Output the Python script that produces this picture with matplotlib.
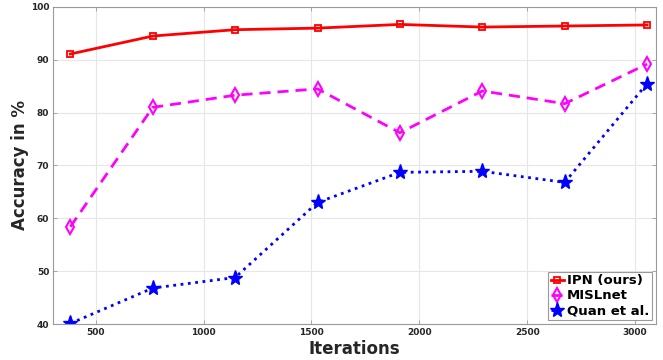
import numpy as np
import matplotlib
matplotlib.use('Agg')
import matplotlib.pyplot as plt

# Data
iterations = [382, 764, 1146, 1528, 1910, 2292, 2674, 3056]
ipn = [91.1, 94.5, 95.7, 96.0, 96.7, 96.2, 96.4, 96.6]
mislnet = [58.4, 81.0, 83.3, 84.5, 76.2, 84.1, 81.7, 89.2]
quan = [40.1, 46.8, 48.8, 63.0, 68.7, 68.9, 66.8, 85.5]

x_ticks = [500, 1000, 1500, 2000, 2500, 3000]
y_ticks = [40, 50, 60, 70, 80, 90, 100]

plt.rcParams['font.family'] = 'DejaVu Sans'
plt.rcParams['font.weight'] = 'bold'

fig = plt.figure(figsize=(6.63, 3.6), dpi=100)
ax = fig.add_axes([0.0804, 0.1, 0.9086, 0.8806])

ax.plot(iterations, ipn, '-', color='#ff0000', lw=2, marker='s', ms=5,
        mfc='none', mec='#ff0000', mew=1.3, label='IPN (ours)')
ax.plot(iterations, mislnet, '--', color='#ff00ff', lw=2, marker='d', ms=7,
        mfc='none', mec='#ff00ff', mew=1.5, label='MISLnet',
        dashes=(4, 2.5))
ax.plot(iterations, quan, ':', color='#0000ff', lw=2, marker='*', ms=11,
        mfc='#0000ff', mec='#0000ff', label='Quan et al.')

ax.set_xlim(303, 3096)
ax.set_ylim(40, 100)
ax.set_xticks(x_ticks)
ax.set_yticks(y_ticks)
ax.grid(True, color='#e6e6e6', lw=0.8)
ax.set_axisbelow(True)

for sp in ax.spines.values():
    sp.set_color('#9a9a9a')
    sp.set_linewidth(0.8)
ax.tick_params(direction='in', length=3, width=0.6, color='#9a9a9a',
               labelsize=6.5, labelcolor='#262626', top=True, right=True,
               pad=3)
for lbl in ax.get_xticklabels() + ax.get_yticklabels():
    lbl.set_fontweight('bold')

ax.set_xlabel('Iterations', fontsize=12, fontweight='bold', color='#262626',
              labelpad=2)
ax.set_ylabel('Accuracy in %', fontsize=12, fontweight='bold', color='#262626',
              labelpad=1)

leg = ax.legend(loc='lower right', fontsize=9.5, handlelength=1.0,
                handletextpad=0.2, borderpad=0.2, labelspacing=0.15,
                borderaxespad=0.3, fancybox=False, framealpha=1,
                edgecolor='#9a9a9a')
leg.get_frame().set_linewidth(0.8)
for t in leg.get_texts():
    t.set_fontweight('bold')

fig.savefig('out.png', dpi=100)
